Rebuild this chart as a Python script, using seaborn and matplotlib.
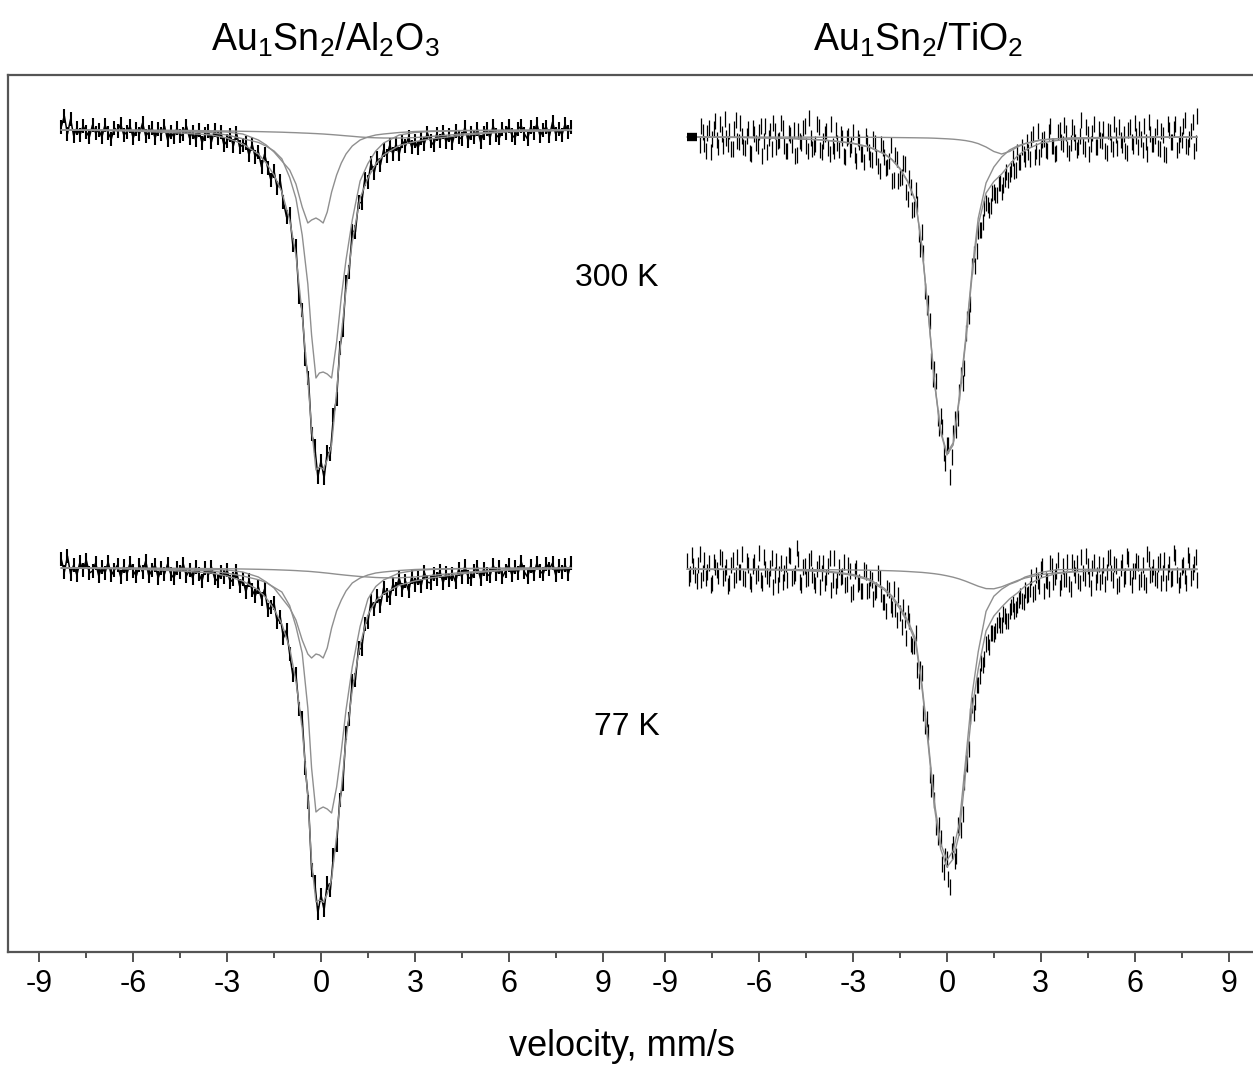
#Mossbauer spectra of Au1Sn2 on Al2O3 and TiO2, 300 K and 77 K
#data + fitted subspectra, two panels sharing one frame

import numpy as np
import matplotlib.pyplot as plt
import seaborn as sns

#velocity grid of the fitted curves (mm/s)
al_fit_v = [-8.3, -6.0, -4.5, -3.5, -3.0, -2.5, -2.0, -1.75, -1.5, -1.25, -1.0, -0.8, -0.6, -0.42, -0.3, -0.16,
            -0.05, 0.07, 0.2, 0.34, 0.5, 0.65, 0.8, 1.0, 1.25, 1.5, 1.75, 2.0, 2.5, 3.0, 3.5, 4.5, 6.0, 8.0]
ti_fit_v = [-8.3, -6.5, -5.0, -4.0, -3.5, -3.0, -2.5, -2.0, -1.75, -1.5, -1.25, -1.0, -0.8, -0.6, -0.4, -0.2,
            0.0, 0.2, 0.4, 0.6, 0.8, 1.0, 1.25, 1.5, 1.75, 2.0, 2.25, 2.5, 3.0, 3.5, 4.0, 5.0, 6.5, 8.0]

#absorption (per mille) of the fits
al300_total = [0, 1, 3, 5, 8, 14, 24, 33, 45, 62, 90, 125, 185, 250, 298, 340, 337, 339, 330, 315,
               262, 205, 160, 112, 68, 48, 34, 25, 15.5, 11.6, 9, 5.2, 1.7, 0.3]
al300_site1 = [0, 0.5, 1.7, 2.7, 5, 8.7, 12.4, 16.2, 21, 28.8, 47.5, 68.3, 105, 154, 205, 248, 243, 242, 244, 248,
               212, 167, 130, 90, 51, 33.5, 21, 13, 5, 2.5, 1.5, 0.7, 0.3, 0]
al300_site2 = [0, 0.5, 1, 1.5, 2, 4, 10, 15, 22, 31, 40, 54, 77, 93, 90, 88, 90, 93, 82, 62,
               45, 33, 24, 16, 10, 7, 5, 4, 2.5, 1.5, 1, 0.5, 0.2, 0]
al300_site3 = [0, 0, 0.3, 0.8, 1, 1.3, 1.6, 1.8, 2, 2.2, 2.5, 2.7, 3, 3.2, 3.4, 3.6, 3.8, 4, 4.3, 4.6,
               5, 5.4, 5.8, 6.3, 7, 7.5, 7.8, 8, 8, 7.6, 6.5, 4, 1.2, 0.3]

al77_total = [0, 1, 3, 5, 8, 13, 22, 30, 41, 56, 80, 113, 160, 229, 294, 334, 332, 334, 326, 311,
              268, 222, 172, 122, 77, 47, 33, 25.8, 17.3, 13, 10, 5.7, 2, 0.3]
al77_site1 = [0, 0.5, 1.7, 2.9, 5.2, 8, 11.7, 14.5, 19.3, 24, 37.7, 58.4, 85, 140, 200, 244, 241, 239, 241, 245,
              219, 183, 142, 99, 58.5, 31, 18.5, 12, 5, 2.5, 1.5, 0.7, 0.3, 0]
al77_site2 = [0, 0.5, 1, 1.5, 2, 4, 9, 14, 20, 30, 40, 52, 72, 86, 90, 86, 87, 90, 80, 60,
              43, 32, 23, 15, 10, 7, 5, 4, 2.5, 1.5, 1, 0.5, 0.2, 0]
al77_site3 = [0, 0, 0.3, 0.6, 0.8, 1, 1.3, 1.5, 1.7, 2, 2.3, 2.6, 3, 3.3, 3.6, 4, 4.3, 4.7, 5.1, 5.6,
              6.2, 6.7, 7.2, 7.8, 8.5, 9, 9.5, 9.8, 9.8, 9, 7.5, 4.5, 1.5, 0.3]

ti300_total = [0, 0.5, 1.5, 3, 4.5, 6.5, 10, 17, 23, 32, 45, 65, 110, 175, 245, 295, 318, 308, 262, 205,
               140, 88, 56, 44.5, 37, 27.5, 19, 13.1, 6, 3.5, 2.2, 1, 0.4, 0.2]
ti300_site1 = [0, 0.4, 1.4, 2.8, 4.3, 6.2, 9.7, 16.6, 22.5, 31.4, 44.3, 64.2, 109.1, 174, 243.8, 293.5, 316.2, 305.8,
               259.2, 201.4, 135.2, 81.4, 46, 30, 20, 13, 9, 6.5, 2.8, 1.7, 1.1, 0.4, 0.1, 0]
ti300_site2 = [0, 0.1, 0.1, 0.2, 0.2, 0.3, 0.3, 0.4, 0.5, 0.6, 0.7, 0.8, 0.9, 1, 1.2, 1.5, 1.8, 2.2, 2.8, 3.6,
               4.8, 6.6, 10, 14.5, 17, 14.5, 10, 6.6, 3.2, 1.8, 1.1, 0.6, 0.3, 0.2]

ti77_total = [0.3, 0.6, 1.2, 2.5, 4, 6.5, 11, 21, 29, 40, 54, 73, 118, 175, 238, 280, 298, 290, 264, 203,
              141, 100, 62, 47, 38, 30, 24, 17, 9, 4.5, 3, 1.6, 0.8, 0.45]
ti77_site1 = [0.1, 0.3, 0.7, 1.8, 3.2, 5.5, 9.8, 19.4, 27.2, 37.9, 51.5, 70, 114.6, 171, 233.3, 274.4, 291.2, 281.8,
              254, 190.8, 126.3, 82.8, 42.4, 27.2, 20.2, 15.3, 12.4, 8, 3.4, 0.8, 0.4, 0.2, 0.1, 0]
ti77_site2 = [0.2, 0.3, 0.5, 0.7, 0.8, 1, 1.2, 1.6, 1.8, 2.1, 2.5, 3, 3.4, 4, 4.7, 5.6, 6.8, 8.2, 10, 12.2,
              14.7, 17.2, 19.6, 19.8, 17.8, 14.7, 11.6, 9, 5.6, 3.7, 2.6, 1.4, 0.7, 0.45]

#measured spectra, absorption (per mille), equally spaced channels
al300_v = np.linspace(-8.3, 8.0, 164)
al300_abs = [-3, -14, 4, -11, 6, -2, 5, -4, 2, 7,
             -5, 3, 0, 7, -5, 3, 9, -2, 1, -6,
             5, 2, -4, 8, -1, 4, -7, 6, 2, -2,
             8, -1, 4, -4, 10, 2, 7, -2, 6, 4,
             -4, 8, 2, 10, 0, 13, 4, 1, 12, 0,
             8, 2, 15, 11, 5, 16, 3, 17, 15, 13,
             25, 14, 27, 22, 37, 24, 38, 50, 41, 58,
             51, 72, 87, 84, 115, 116, 167, 180, 229, 248,
             304, 316, 347, 331, 348, 322, 324, 285, 269, 218,
             200, 152, 142, 101, 102, 72, 73, 49, 52, 33,
             43, 28, 35, 20, 26, 15, 24, 14, 24, 11,
             16, 7, 17, 11, 18, 8, 14, 3, 11, 15,
             4, 11, 2, 12, 5, 13, 1, 7, 9, -3,
             11, 3, 7, -1, 12, 3, -1, 8, -4, 5,
             8, -1, 3, -4, 5, 8, -1, -4, 4, 9,
             -3, 3, -6, 6, 0, -3, 6, -8, 4, -1,
             5, -6, 2, -3]
al77_v = np.linspace(-8.3, 8.0, 164)
al77_abs = [-9, 4, -12, 6, -3, 7, -6, 2, -8, 5,
            3, -5, 8, -1, 5, -6, 7, 2, -3, 9,
            -2, 6, -5, 3, 8, -3, 4, -7, 8, 2,
            -3, 10, 0, 6, -4, 6, 10, 0, 4, -4,
            8, 2, 10, -1, 6, 13, 0, 7, -1, 10,
            13, 4, 9, 2, 14, 11, 3, 18, 11, 24,
            12, 22, 28, 19, 31, 21, 42, 39, 35, 54,
            49, 70, 62, 86, 107, 106, 141, 150, 200, 234,
            302, 314, 345, 327, 342, 315, 322, 287, 277, 232,
            216, 165, 151, 113, 112, 80, 81, 56, 54, 33,
            41, 28, 38, 20, 27, 30, 16, 21, 10, 22,
            13, 23, 9, 17, 10, 18, 4, 14, 15, 6,
            11, 3, 15, 5, 12, 6, 14, 1, 9, -2,
            9, 11, 3, -1, 11, 1, 6, 8, -3, 6,
            -1, 9, 3, -3, 7, -1, 5, -6, 4, 9,
            -2, 6, -5, 3, 6, -4, 1, -5, 7, -2,
            4, -3, 6, -5]

#TiO2 spectra: channels on a 0.1 grid (a) and the interleaved half-step channels (b)
ti300_va = np.linspace(-7.9, 8.0, 160)
ti300_abs_a = [8, -5, 14, -9, 2, -16,
               10, -3, -18, 7, 12, -8, 4, -14, 10, -1,
               16, -9, 6, -5, 19, -11, 1, 12, -6, 4,
               -14, 9, 14, -2, -7, 18, 4, -9, 9, -19,
               12, 7, -10, 15, -3, 11, -13, 14, 6, -3,
               19, 1, 12, -5, 24, 5, 17, -1, 15, 23,
               6, 29, 7, 20, 30, 8, 43, 22, 41, 26,
               55, 41, 73, 53, 97, 95, 154, 166, 224, 232,
               281, 279, 316, 308, 340, 296, 293, 255, 246, 196,
               179, 129, 129, 94, 93, 71, 68, 69, 55, 58,
               46, 48, 35, 37, 21, 33, 25, 10, 22, 15,
               2, 20, -6, 12, 2, 14, -11, 9, 16, -7,
               7, -4, 16, -10, 5, 10, -17, 12, -3, 7,
               -13, 10, 3, -8, 16, -5, 12, -2, -10, 8,
               14, -7, 5, -14, 10, 2, -11, 17, -3, 7,
               -10, 12, -2, 18, -7, 5, -13, 8, 3, -17,
               10, -6, 14, -21]
ti300_vb = np.linspace(-7.85, 7.95, 159)
ti300_abs_b = [-11, 7, -4, 15, -8, 3, -13, 9, 1, -6,
               12, -17, 5, -1, 11, -8, 17, -3, 9, -11,
               4, 15, -6, -14, 10, 3, -9, 14, -4, 8,
               19, -6, 6, -11, 14, 1, 10, -13, 13, 4,
               -6, 17, 9, -7, 13, 1, 20, -1, 8, 18,
               1, 17, 25, 6, 22, 2, 20, 34, 11, 31,
               24, 44, 18, 44, 40, 27, 62, 50, 72, 67,
               112, 116, 170, 184, 242, 244, 291, 290, 326, 308,
               320, 282, 281, 238, 231, 182, 167, 117, 114, 93,
               85, 66, 73, 56, 58, 46, 55, 42, 43, 32,
               34, 15, 25, 17, 5, 22, -3, 14, 20, 3,
               13, -5, 9, 17, -5, 5, -12, 12, 6, -4,
               13, -1, 9, -10, 17, -4, 10, -8, 4, 14,
               -6, 7, -13, 11, 3, -3, 16, -10, 9, -1,
               -8, 13, 5, -15, 7, -1, 11, -6, 17, -13,
               5, -8, 13, -3, -11, 9, 2, -15, 6]
ti300_block_v = [-8.32, -7.98]   #first channels, drawn as a solid block
ti300_block_abs = [0, 0]

ti77_va = np.linspace(-8.3, 8.0, 164)
ti77_abs_a = [-8, 5, -3, 12, -15, 4, 9, -6, 14, -2,
              7, -10, 4, 17, -4, 11, -12, 3, 9, -8,
              12, -3, 7, -16, 14, 0, 10, -11, 6, 16,
              -6, 4, 11, -13, 7, -21, 13, -2, 10, -8,
              6, 16, -6, 4, 14, -3, 21, -11, 11, 8,
              -7, 15, 2, 23, -1, 13, 22, 3, 21, 11,
              23, 4, 25, 33, 19, 36, 20, 51, 44, 38,
              69, 52, 77, 64, 112, 104, 157, 163, 220, 231,
              268, 269, 303, 290, 318, 275, 287, 258, 245, 194,
              180, 136, 133, 116, 94, 90, 73, 64, 65, 56,
              56, 45, 52, 42, 35, 40, 31, 32, 21, 25,
              8, 23, 12, 0, 22, 12, -6, 13, 2, 19,
              -3, 10, 15, -7, 6, 12, -12, 9, -3, 19,
              -7, 6, 13, -4, 3, -12, 11, -3, 15, -7,
              7, -10, 16, 2, -6, 10, 13, -15, 6, -2,
              11, -8, 4, 14, -5, 9, -12, 16, -2, 7,
              -14, 9, -5, 11]
ti77_vb = np.linspace(-8.25, 7.95, 163)
ti77_abs_b = [9, -14, 6, -4, 11, -9, 3, 16, -7, 1,
              -12, 9, -2, 14, -9, 6, 3, -15, 10, -4,
              15, -7, 4, 11, -12, 7, -1, 18, -8, 5,
              13, -5, -14, 9, 4, -10, 16, -3, 9, -11,
              12, 0, 18, -6, 8, -11, 11, 17, -2, 7,
              16, -4, 25, 2, 15, 22, 1, 22, 9, 30,
              21, 9, 33, 42, 21, 40, 40, 26, 58, 51,
              44, 75, 77, 101, 100, 144, 150, 206, 213, 258,
              256, 295, 287, 310, 282, 292, 256, 261, 213, 195,
              147, 144, 116, 107, 96, 75, 78, 64, 62, 51,
              56, 47, 52, 38, 42, 36, 27, 33, 26, 20,
              25, 6, 17, -3, 11, 20, -3, 8, -9, 13,
              10, -7, 20, -1, -6, 14, 4, -13, 10, -1,
              13, -5, 7, 15, -11, 4, -5, 17, -1, 10,
              -13, 8, 2, -8, 13, -4, 16, -10, 5, 9,
              -5, 14, -9, 3, 10, -16, 6, 11, -4, 14,
              -8, 3, -12]
al_err = 7
ti_err = 8

tick_vals = [-9, -6, -3, 0, 3, 6, 9]
tick_text = ['-9', '-6', '-3', '0', '3', '6', '9']
minor_vals = [-7.5, -4.5, -1.5, 1.5, 4.5, 7.5]

sns.set_style("white")
plt.rcParams['font.family'] = ['Liberation Sans', 'DejaVu Sans']
plt.rcParams['mathtext.fontset'] = 'custom'
plt.rcParams['mathtext.rm'] = 'Liberation Sans'
plt.rcParams['mathtext.default'] = 'regular'
plt.rcParams['text.color'] = 'black'
plt.rcParams['axes.labelcolor'] = 'black'
plt.rcParams['xtick.color'] = 'black'

fig = plt.figure(figsize=(12.53, 10.68), dpi=100)
ax = fig.add_axes([8/1253, 116/1068, 1245/1253, 877/1068])

fit_color = '#8f8f8f'

def draw_data(v, absorb, err, dx, dy, joined, lw):
    x = np.asarray(v) + dx
    y = dy - np.asarray(absorb)
    if joined:
        ax.plot(x, y, color='black', lw=1.1, zorder=2)
    ax.errorbar(x, y, yerr=err, fmt='none', ecolor='black', elinewidth=lw, capsize=0, zorder=2)

def draw_fits(fit_v, fits, dx, dy):
    for f in fits:
        sns.lineplot(x=np.asarray(fit_v) + dx, y=dy - np.asarray(f), estimator=None, sort=False,
                     color=fit_color, linewidth=1.0, ax=ax, zorder=3)

#left panel: shift 0, right panel: shift 20 mm/s on the shared axis
draw_data(al300_v, al300_abs, al_err, 0, 438, True, 1.5)
draw_fits(al_fit_v, [al300_total, al300_site1, al300_site2, al300_site3], 0, 438)
draw_data(al77_v, al77_abs, al_err, 0, 0, True, 1.5)
draw_fits(al_fit_v, [al77_total, al77_site1, al77_site2, al77_site3], 0, 0)

draw_data(ti300_va, ti300_abs_a, ti_err, 20, 431, False, 0.9)
draw_data(ti300_vb, ti300_abs_b, ti_err, 20, 431, False, 0.9)
draw_fits(ti_fit_v, [ti300_total, ti300_site1, ti300_site2], 20, 431)
ax.plot(np.asarray(ti300_block_v) + 20, 431 - np.asarray(ti300_block_abs), color='black', lw=6,
        solid_capstyle='butt', zorder=3)
draw_data(ti77_va, ti77_abs_a, ti_err, 20, -1, False, 0.9)
draw_data(ti77_vb, ti77_abs_b, ti_err, 20, -1, False, 0.9)
draw_fits(ti_fit_v, [ti77_total, ti77_site1, ti77_site2], 20, -1)

ax.set_xlim(-10, 29.78)
ax.set_ylim(-384, 493)
ax.set_xticks(tick_vals + [t + 20 for t in tick_vals])
ax.set_xticklabels(tick_text + tick_text)
ax.set_xticks(minor_vals + [t + 20 for t in minor_vals], minor=True)
ax.set_yticks([])
ax.tick_params(axis='x', which='major', direction='out', length=7, width=1.2, color='#333333',
               labelsize=22, pad=5, bottom=True)
ax.tick_params(axis='x', which='minor', direction='out', length=4, width=1.2, color='#333333', bottom=True)
for side in ['left', 'top', 'bottom']:
    ax.spines[side].set_color('#555555')
    ax.spines[side].set_linewidth(1.6)
ax.spines['right'].set_visible(False)

ax.text(9.46, 290, '300 K', fontsize=23, ha='center', va='center')
ax.text(9.78, -159, '77 K', fontsize=23, ha='center', va='center')
ax.text(0.13, 1.04, r'Au$_1$Sn$_2$/Al$_2$O$_3$', fontsize=27, ha='center', va='center',
        transform=ax.get_xaxis_transform())
ax.text(19.07, 1.04, r'Au$_1$Sn$_2$/TiO$_2$', fontsize=27, ha='center', va='center',
        transform=ax.get_xaxis_transform())
ax.set_xlabel('velocity, mm/s', fontsize=26)
ax.xaxis.set_label_coords(0.493, -0.088)

plt.savefig('out.png', dpi=100)
